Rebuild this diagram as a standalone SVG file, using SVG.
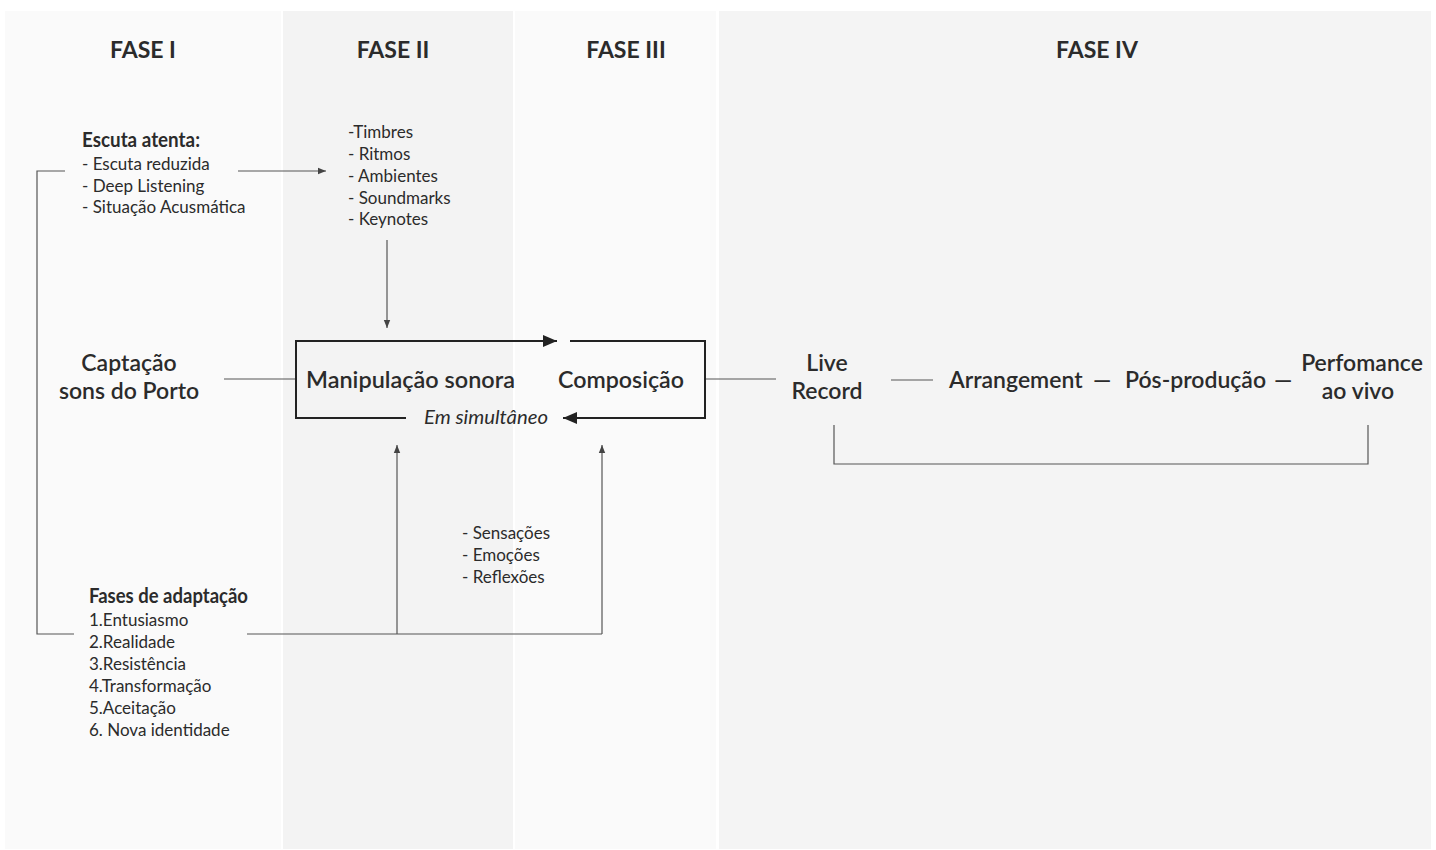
<svg xmlns="http://www.w3.org/2000/svg" width="1436" height="850" viewBox="0 0 1436 850">
<defs>
<style>
text{font-family:Lato,"Open Sans","Liberation Sans",sans-serif;fill:#2b2b2b}
.h{font-size:23px;font-weight:bold;text-anchor:middle}
.b{font-size:21px;font-weight:bold}
.m{font-size:23px;font-weight:600}
.s{font-size:17px}
.c{text-anchor:middle}
.ln{stroke:#555;stroke-width:1.2;fill:none}
.bx{stroke:#222;stroke-width:2;fill:none}
</style>
<marker id="a" viewBox="0 0 10 10" refX="10" refY="5" markerWidth="8" markerHeight="8" markerUnits="userSpaceOnUse" orient="auto"><path d="M0,1 L10,5 L0,9 Z" fill="#444"/></marker>
<marker id="A" viewBox="0 0 14 12" refX="14" refY="6" markerWidth="14" markerHeight="12" markerUnits="userSpaceOnUse" orient="auto"><path d="M0,0 L14,6 L0,12 Z" fill="#222"/></marker>
</defs>
<rect width="1436" height="850" fill="#fff"/>
<g id="panels">
<rect x="5" y="11" width="276" height="838" fill="#fafafa"/>
<rect x="283" y="11" width="230" height="838" fill="#f3f3f3"/>
<rect x="515" y="11" width="201" height="838" fill="#fafafa"/>
<rect x="719" y="11" width="712" height="838" fill="#f4f4f4"/>
</g>
<g id="headers">
<text class="h" x="143" y="58">FASE I</text>
<text class="h" x="393" y="58">FASE II</text>
<text class="h" x="626" y="58">FASE III</text>
<text class="h" x="1097" y="58">FASE IV</text>
</g>
<g id="connectors">
<polyline class="ln" points="65,171 37,171 37,634 74,634"/>
<line class="ln" x1="238" y1="171" x2="326" y2="171" marker-end="url(#a)"/>
<line class="ln" x1="387" y1="240" x2="387" y2="328" marker-end="url(#a)"/>
<line class="ln" x1="247" y1="634" x2="602" y2="634"/>
<line class="ln" x1="397" y1="634" x2="397" y2="445" marker-end="url(#a)"/>
<line class="ln" x1="602" y1="634" x2="602" y2="445" marker-end="url(#a)"/>
<line class="ln" x1="224" y1="379" x2="296" y2="379"/>
<line class="ln" x1="705" y1="379" x2="776" y2="379"/>
<line class="ln" x1="891" y1="380" x2="933" y2="380"/>
<polyline class="ln" points="834,425 834,464 1368,464 1368,425"/>
<polyline class="bx" points="406,418 296,418 296,341 557,341" marker-end="url(#A)"/>
<polyline class="bx" points="570,341 705,341 705,418 563,418" marker-end="url(#A)"/>
</g>
<g id="escuta">
<text class="b" x="82" y="147" textLength="118" lengthAdjust="spacingAndGlyphs">Escuta atenta:</text>
<text class="s" x="82" y="170">- Escuta reduzida</text>
<text class="s" x="82" y="192">- Deep Listening</text>
<text class="s" x="82" y="213">- Situação Acusmática</text>
</g>
<g id="timbres">
<text class="s" x="348" y="138">-Timbres</text>
<text class="s" x="348" y="160">- Ritmos</text>
<text class="s" x="348" y="182">- Ambientes</text>
<text class="s" x="348" y="204">- Soundmarks</text>
<text class="s" x="348" y="225">- Keynotes</text>
</g>
<g id="captacao">
<text class="m c" x="129" y="371">Captação</text>
<text class="m c" x="129" y="399">sons do Porto</text>
</g>
<g id="manipulacao">
<text class="m" x="306" y="388" textLength="209" lengthAdjust="spacingAndGlyphs">Manipulação sonora</text>
</g>
<g id="composicao">
<text class="m" x="558" y="388" textLength="126" lengthAdjust="spacingAndGlyphs">Composição</text>
</g>
<g id="simultaneo">
<text x="424" y="424" font-size="19" font-style="italic" textLength="124" lengthAdjust="spacingAndGlyphs">Em simultâneo</text>
</g>
<g id="live">
<text class="m c" x="827" y="371">Live</text>
<text class="m c" x="827" y="399">Record</text>
</g>
<g id="arrangement">
<text class="m" y="388"><tspan x="949">Arrangement</tspan><tspan x="1093">—</tspan><tspan x="1125">Pós-produção</tspan><tspan x="1274">—</tspan></text>
</g>
<g id="performance">
<text class="m c" x="1362" y="371">Perfomance</text>
<text class="m c" x="1358" y="399">ao vivo</text>
</g>
<g id="sensacoes">
<text class="s" x="462" y="539">- Sensações</text>
<text class="s" x="462" y="561">- Emoções</text>
<text class="s" x="462" y="583">- Reflexões</text>
</g>
<g id="fases">
<text class="b" x="89" y="603" textLength="159" lengthAdjust="spacingAndGlyphs">Fases de adaptação</text>
<text class="s" x="89" y="626">1.Entusiasmo</text>
<text class="s" x="89" y="648">2.Realidade</text>
<text class="s" x="89" y="670">3.Resistência</text>
<text class="s" x="89" y="692">4.Transformação</text>
<text class="s" x="89" y="714">5.Aceitação</text>
<text class="s" x="89" y="736">6. Nova identidade</text>
</g>
</svg>
